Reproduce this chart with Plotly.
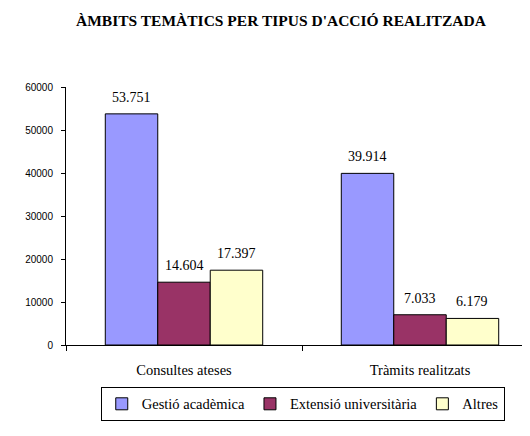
import plotly.graph_objects as go

# data
categories = ["Consultes ateses", "Tràmits realitzats"]
series_names = ["Gestió acadèmica", "Extensió universitària", "Altres"]
gestio = [53751, 39914]
extensio = [14604, 7033]
altres = [17397, 6179]
colors = ["#9999FF", "#993366", "#FFFFCC"]


def fmt(v):
    # thousands with a dot, catalan style
    return "{:,}".format(v).replace(",", ".")


W, H = 530, 436
ML, MR = 58, 0
BARGAP = 0.333

fig = go.Figure()
all_vals = [gestio, extensio, altres]
for name, vals, col in zip(series_names, all_vals, colors):
    fig.add_trace(go.Bar(
        x=categories, y=vals, name=name,
        marker=dict(color=col, line=dict(color="black", width=1)),
    ))

# value labels above bars (a bit higher than textposition outside gives)
cat_px = (W - ML - MR) / len(categories)
bar_px = cat_px * (1 - BARGAP) / len(series_names)
for i, vals in enumerate(all_vals):
    for c, v in zip(categories, vals):
        fig.add_annotation(x=c, y=v, text=fmt(v), showarrow=False,
                           xshift=(i - 1) * bar_px, yanchor="bottom", yshift=7,
                           font=dict(family="Liberation Serif", size=14, color="black"))

# page body has an 8px margin, so offsets below are shifted by 8
fig.update_layout(
    width=W, height=H,
    margin=dict(l=ML, r=MR, t=79, b=99, autoexpand=False),
    paper_bgcolor="white", plot_bgcolor="white",
    barmode="group", bargap=BARGAP, bargroupgap=0,
    title=dict(text="<b>ÀMBITS TEMÀTICS PER TIPUS D'ACCIÓ REALITZADA</b>",
               x=0.515, xanchor="center", y=0.972, yanchor="middle",
               font=dict(family="Liberation Serif", size=15.5, color="black")),
    legend=dict(orientation="h", xref="container", yref="container",
                x=0.175, xanchor="left", y=0.131, yanchor="top",
                bordercolor="black", borderwidth=1,
                font=dict(family="Liberation Serif", size=14.5, color="black")),
)
fig.update_xaxes(type="category", range=[-0.5, 1.5],
                 showline=True, linecolor="black", linewidth=1,
                 ticks="outside", tickson="boundaries", ticklen=5, tickcolor="black",
                 ticklabelstandoff=12,
                 tickfont=dict(family="Liberation Serif", size=14.5, color="black"))
fig.update_yaxes(range=[0, 60000], dtick=10000, tickformat="d",
                 showgrid=False, zeroline=False,
                 showline=True, linecolor="black", linewidth=1,
                 ticks="outside", ticklen=4, tickcolor="black",
                 ticklabelstandoff=6,
                 tickfont=dict(family="Liberation Sans", size=10, color="black"))

fig.write_html("out.html")
